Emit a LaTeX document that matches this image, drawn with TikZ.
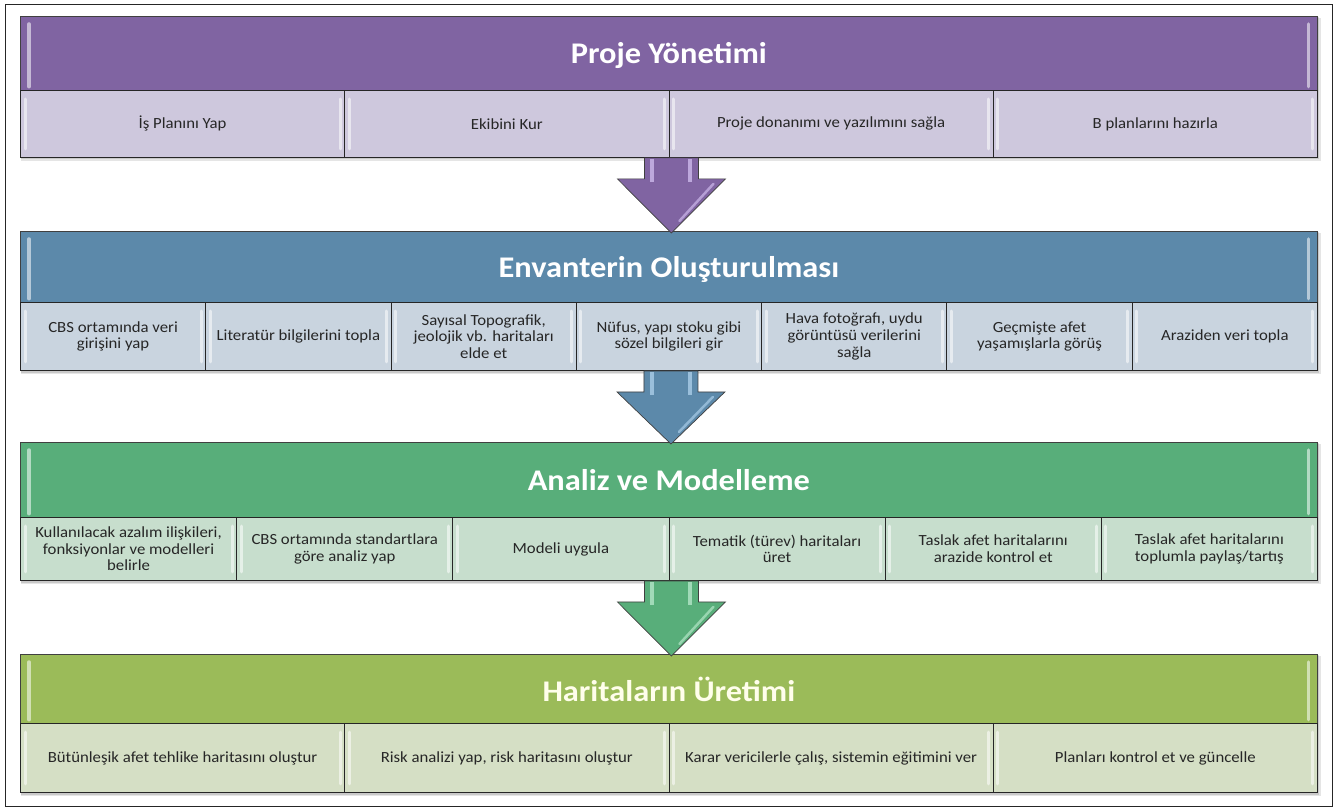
\documentclass[tikz,border=0pt]{standalone}
\usepackage{fontspec}
\setmainfont[FakeStretch=1.08]{Carlito}
\usetikzlibrary{calc}
\definecolor{purpH}{RGB}{128,100,162}
\definecolor{purpC}{RGB}{206,200,221}
\definecolor{purpL}{RGB}{205,185,235}
\definecolor{blueH}{RGB}{92,137,170}
\definecolor{blueC}{RGB}{201,212,223}
\definecolor{blueL}{RGB}{170,205,232}
\definecolor{greenH}{RGB}{88,174,122}
\definecolor{greenC}{RGB}{199,222,205}
\definecolor{greenL}{RGB}{180,230,200}
\definecolor{oliveH}{RGB}{155,187,89}
\definecolor{oliveC}{RGB}{213,223,197}
\tikzset{
  hdr/.style={draw=black!75, line width=0.7pt, anchor=north west, inner sep=0pt,
    text depth=0pt, minimum width=1297pt, text=white, font=\fontsize{30}{34}\selectfont\bfseries},
  cell/.style={draw=black!85, line width=0.9pt, anchor=north west, inner sep=0pt,
    align=center, text=black!85, font=\fontsize{15.5}{16.7}\selectfont},
  hl/.style={white, opacity=0.55, line width=3pt, line cap=round},
  arrowline/.style={draw=black!75, line width=0.7pt, line join=miter},
}
\newcommand\blockshadow[2]{%
  \fill[black, opacity=0.10] (21,#1+2) rectangle (1321,#2+4);
  \fill[black, opacity=0.12] (21,#1+1) rectangle (1319,#2+2.5);
}
\newcommand\flowarrow[4]{%
  \draw[arrowline, fill=#3] let \p1=(#1), \p2=(#2) in
    (\x1-27pt,\y1) -- (\x1+27pt,\y1) -- (\x1+27pt,\y1-21pt) -- (\x1+54pt,\y1-21pt)
    -- (\x1,\y2-2pt) -- (\x1-54pt,\y1-21pt) -- (\x1-27pt,\y1-21pt) -- cycle;
  \draw[#4, opacity=0.8, line width=4pt] let \p1=(#1) in
    (\x1-19pt,\y1-1pt) -- (\x1-19pt,\y1-24pt) (\x1+19pt,\y1-1pt) -- (\x1+19pt,\y1-24pt);
  \draw[#4, opacity=0.7, line width=2.5pt, line cap=round] let \p1=(#1), \p2=(#2) in
    (\x1+42pt,\y1-26pt) -- (\x1+8pt,\y2+10pt);
}
\begin{document}
\begin{tikzpicture}[x=1pt,y=-1pt]
\useasboundingbox (0,0) rectangle (1338,810);
\fill[white] (0,0) rectangle (1338,810);
\draw[black!85, line width=0.9pt] (5,4) rectangle (1332,806);

% shadows
\blockshadow{16}{157}
\blockshadow{231}{370}
\blockshadow{442}{580}
\blockshadow{654}{792}

% ---------- Section 1 ----------
\node[hdr, fill=purpH, minimum height=74pt] (h1) at (20,16) {Proje Yönetimi};
\foreach [count=\i] \t in {{İş Planını Yap},{Ekibini Kur},{Proje donanımı ve yazılımını sağla},{B planlarını hazırla}}
  \node[cell, fill=purpC, minimum width=324.25pt, minimum height=67pt] (p\i) at ({20+(\i-1)*324.25},90) {\t};

% ---------- Section 2 ----------
\node[hdr, fill=blueH, minimum height=71pt] (h2) at (20,231) {Envanterin Oluşturulması};
\foreach [count=\i] \t in {{CBS ortamında veri\\girişini yap},{Literatür bilgilerini topla},{Sayısal Topografik,\\jeolojik vb. haritaları\\elde et},{Nüfus, yapı stoku gibi\\sözel bilgileri gir},{Hava fotoğrafı, uydu\\görüntüsü verilerini\\sağla},{Geçmişte afet\\yaşamışlarla görüş},{Araziden veri topla}}
  \node[cell, fill=blueC, minimum width=185.286pt, minimum height=68pt] (e\i) at ({20+(\i-1)*185.286},302) {\t};

% ---------- Section 3 ----------
\node[hdr, fill=greenH, minimum height=75pt] (h3) at (20,442) {Analiz ve Modelleme};
\foreach [count=\i] \t in {{Kullanılacak azalım ilişkileri,\\fonksiyonlar ve modelleri\\belirle},{CBS ortamında standartlara\\göre analiz yap},{Modeli uygula},{Tematik (türev) haritaları\\üret},{Taslak afet haritalarını\\arazide kontrol et},{Taslak afet haritalarını\\toplumla paylaş/tartış}}
  \node[cell, fill=greenC, minimum width=216.167pt, minimum height=63pt] (m\i) at ({20+(\i-1)*216.167},517) {\t};

% ---------- Section 4 ----------
\node[hdr, fill=oliveH, minimum height=69pt, text=white!92!yellow] (h4) at (20,654) {Haritaların Üretimi};
\foreach [count=\i] \t in {{Bütünleşik afet tehlike haritasını oluştur},{Risk analizi yap, risk haritasını oluştur},{Karar vericilerle çalış, sistemin eğitimini ver},{Planları kontrol et ve güncelle}}
  \node[cell, fill=oliveC, minimum width=324.25pt, minimum height=69pt] (u\i) at ({20+(\i-1)*324.25},723) {\t};

% bevel highlights
\foreach \n in {h1,h2,h3,h4}{
  \draw[hl, line width=3.5pt] ([xshift=9pt,yshift=-8pt]\n.north west) -- ([xshift=9pt,yshift=4pt]\n.south west);
  \draw[hl, line width=3.5pt] ([xshift=-9pt,yshift=-8pt]\n.north east) -- ([xshift=-9pt,yshift=4pt]\n.south east);
}
\foreach \n in {p1,p2,p3,p4,e1,e2,e3,e4,e5,e6,e7,m1,m2,m3,m4,m5,m6,u1,u2,u3,u4}{
  \draw[hl] ([xshift=5pt,yshift=-9pt]\n.north west) -- ([xshift=5pt,yshift=9pt]\n.south west);
  \draw[hl] ([xshift=-5pt,yshift=-9pt]\n.north east) -- ([xshift=-5pt,yshift=9pt]\n.south east);
}

% arrows
\coordinate (a1s) at ($(p2.south east)+(2,0)$);
\coordinate (a2s) at ($(e4.south)+(2,0)$);
\coordinate (a3s) at ($(m3.south east)+(2,0)$);
\flowarrow{a1s}{h2.north}{purpH}{purpL}
\flowarrow{a2s}{h3.north}{blueH}{blueL}
\flowarrow{a3s}{h4.north}{greenH}{greenL}
\end{tikzpicture}
\end{document}
